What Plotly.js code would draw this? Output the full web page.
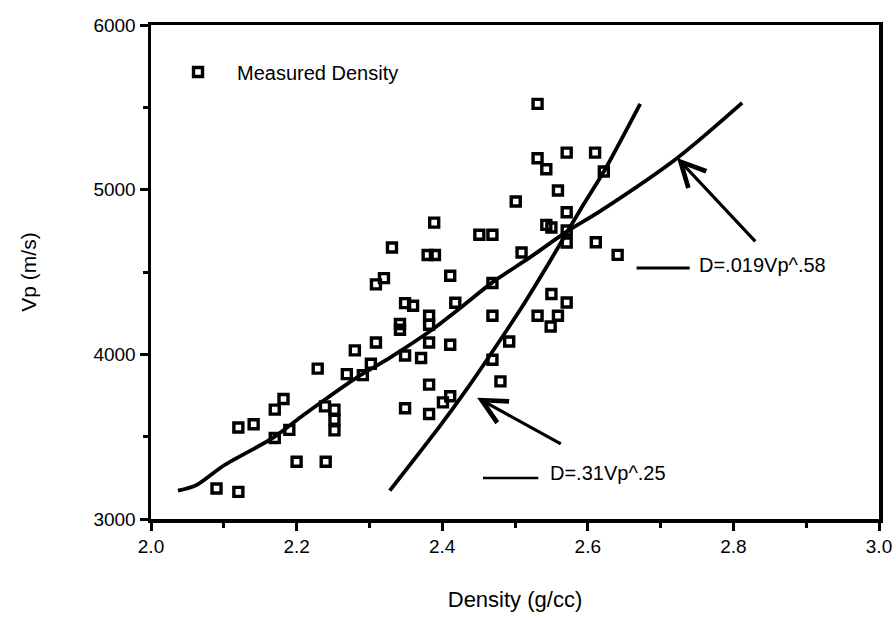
<!DOCTYPE html>
<html>
<head>
<meta charset="utf-8">
<script src="https://cdn.plot.ly/plotly-3.0.1.min.js"></script>
<style>html,body{margin:0;padding:0;background:#fff;}#chart{width:896px;height:624px;}</style>
</head>
<body>
<div id="chart"></div>
<script>
// Measured data (density g/cc, Vp m/s)
const density = [2.090,2.120,2.120,2.141,2.170,2.170,2.182,2.190,2.200,2.229,
  2.240,2.239,2.252,2.252,2.252,2.269,2.280,2.291,2.302,2.309,
  2.309,2.320,2.331,2.349,2.360,2.342,2.342,2.349,2.371,2.349,
  2.389,2.380,2.390,2.382,2.382,2.382,2.382,2.382,2.401,2.411,
  2.411,2.418,2.411,2.469,2.469,2.492,2.469,2.480,2.451,2.469,
  2.509,2.501,2.531,2.531,2.543,2.571,2.610,2.622,2.559,2.571,
  2.543,2.550,2.571,2.571,2.611,2.641,2.550,2.571,2.531,2.559,2.549];
const vp = [3185,3165,3556,3575,3492,3664,3729,3541,3348,3913,
  3348,3684,3664,3603,3538,3880,4024,3874,3943,4072,
  4425,4463,4649,4311,4295,4184,4149,3993,3978,3673,
  4800,4603,4603,4234,4180,4072,3816,3638,3708,3745,
  4477,4313,4058,4433,4234,4078,3967,3836,4726,4726,
  4618,4928,5521,5191,5124,5225,5225,5110,4995,4863,
  4786,4770,4752,4679,4681,4604,4366,4315,4234,4234,4169];

// Curve D=.019Vp^.58
const curve1Density = [2.037,2.062,2.099,2.168,2.209,2.242,2.283,2.330,2.383,2.430,2.468,2.521,2.571,2.617,2.723,2.812];
const curve1Vp = [3172,3205,3322,3494,3630,3735,3860,3985,4140,4300,4434,4590,4745,4870,5193,5527];

// Curve D=.31Vp^.25
const curve2Density = [2.328,2.397,2.434,2.468,2.510,2.548,2.590,2.622,2.672];
const curve2Vp = [3172,3565,3790,4010,4290,4565,4880,5110,5521];

const xTickVals = [2.0,2.2,2.4,2.6,2.8,3.0];
const xTickText = ["2.0","2.2","2.4","2.6","2.8","3.0"];
const yTickVals = [3000,4000,5000,6000];
const yTickText = ["3000","4000","5000","6000"];

const FONT = "Liberation Sans, Arial, Helvetica, sans-serif";

const traces = [
  {x: curve1Density, y: curve1Vp, mode: 'lines', showlegend: false,
   line: {color: '#000', width: 3.8, shape: 'spline', smoothing: 0.8}, hoverinfo: 'skip'},
  {x: curve2Density, y: curve2Vp, mode: 'lines', showlegend: false,
   line: {color: '#000', width: 3.8, shape: 'spline', smoothing: 0.8}, hoverinfo: 'skip'},
  {x: density, y: vp, mode: 'markers', name: 'Measured Density',
   marker: {symbol: 'square-open', size: 9, color: '#000', line: {color: '#000', width: 3.4}}}
];

const axisCommon = {
  showgrid: false, zeroline: false, showline: true, linecolor: '#000', linewidth: 3.5,
  mirror: true, ticks: 'outside', ticklen: 8, tickwidth: 3, tickcolor: '#000',
  tickfont: {family: FONT, size: 19, color: '#000'}
};

const layout = {
  width: 896, height: 624,
  margin: {l: 151, r: 17, t: 25, b: 105},
  paper_bgcolor: '#fff', plot_bgcolor: '#fff',
  font: {family: FONT, color: '#000'},
  xaxis: Object.assign({}, axisCommon, {
    range: [2, 3], tickvals: xTickVals, ticktext: xTickText,
    minor: {tickvals: [2.1,2.3,2.5,2.7,2.9], ticks: 'outside', ticklen: 5, tickwidth: 3, tickcolor: '#000'},
    title: {text: 'Density (g/cc)', font: {family: FONT, size: 22, color: '#000'}, standoff: 36}
  }),
  yaxis: Object.assign({}, axisCommon, {
    range: [3000, 6000], tickvals: yTickVals, ticktext: yTickText,
    minor: {tickvals: [3500,4500,5500], ticks: 'outside', ticklen: 5, tickwidth: 3, tickcolor: '#000'},
    title: {text: 'Vp (m/s)', font: {family: FONT, size: 21, color: '#000'}, standoff: 52}
  }),
  showlegend: true,
  legend: {x: 0.011, y: 0.905, xanchor: 'left', yanchor: 'middle', itemwidth: 68,
    bgcolor: 'rgba(0,0,0,0)', borderwidth: 0, font: {family: FONT, size: 20, color: '#000'}},
  shapes: [
    {type: 'line', xref: 'x', yref: 'y', x0: 2.667, x1: 2.740, y0: 4524, y1: 4524, line: {color: '#000', width: 3}},
    {type: 'line', xref: 'x', yref: 'y', x0: 2.456, x1: 2.532, y0: 3249, y1: 3249, line: {color: '#000', width: 2.5}}
  ],
  annotations: [
    {x: 2.750, y: 4544, xref: 'x', yref: 'y', text: 'D=.019Vp^.58', showarrow: false, xanchor: 'left', yanchor: 'middle',
     font: {family: FONT, size: 20, color: '#000'}},
    {x: 2.546, y: 3282, xref: 'x', yref: 'y', text: 'D=.31Vp^.25', showarrow: false, xanchor: 'left', yanchor: 'middle',
     font: {family: FONT, size: 20, color: '#000'}},
    {x: 2.7225, y: 5193, ax: 2.832, ay: 4677, xref: 'x', yref: 'y', axref: 'x', ayref: 'y', text: '',
     showarrow: true, arrowhead: 5, arrowsize: 1.5, arrowwidth: 3.2, arrowcolor: '#000'},
    {x: 2.448, y: 3737, ax: 2.565, ay: 3451, xref: 'x', yref: 'y', axref: 'x', ayref: 'y', text: '',
     showarrow: true, arrowhead: 5, arrowsize: 1.5, arrowwidth: 3.2, arrowcolor: '#000'}
  ]
};

Plotly.newPlot('chart', traces, layout, {displayModeBar: false, staticPlot: true});
</script>
</body>
</html>
